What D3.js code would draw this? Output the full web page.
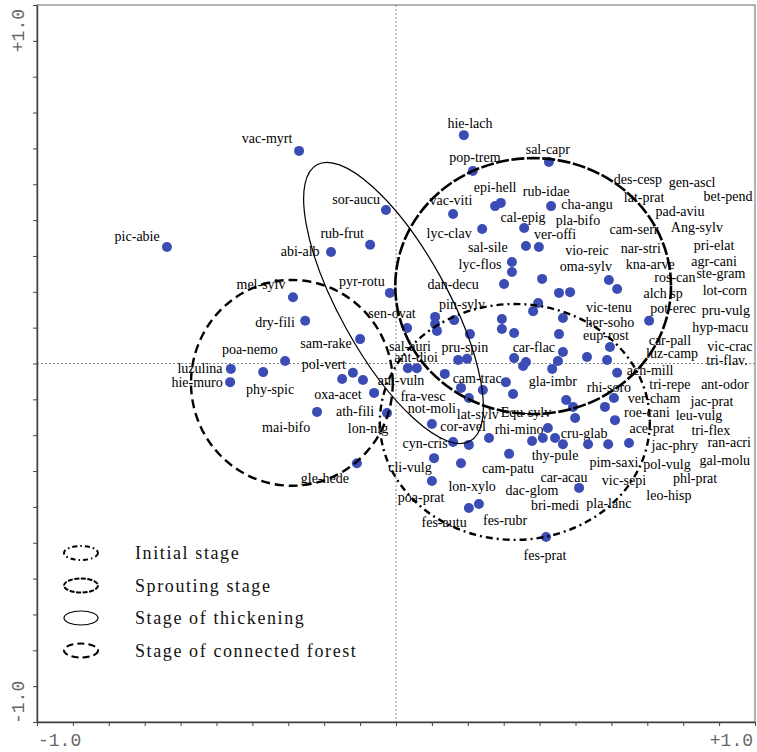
<!DOCTYPE html>
<html>
<head>
<meta charset="utf-8">
<script src="https://cdn.jsdelivr.net/npm/d3@7"></script>
<style>
  body { margin: 0; background: #fff; }
</style>
</head>
<body>
<div id="chart"></div>
<script>
// species scores on ordination axes 1 and 2
const points = [
    [-0.638, 0.325], [-0.270, 0.593], [-0.028, 0.428], [-0.072, 0.331], [-0.181, 0.311],
    [-0.017, 0.197], [-0.287, 0.185], [-0.253, 0.119], [-0.100, 0.068], [-0.309, 0.007],
    [-0.370, -0.024], [-0.460, -0.015], [-0.462, -0.052], [-0.150, -0.043], [-0.120, -0.026],
    [-0.092, -0.046], [-0.061, -0.082], [-0.025, -0.138], [-0.220, -0.135], [-0.109, -0.278],
    [0.031, 0.099], [0.033, -0.013], [0.058, -0.013], [0.189, 0.637], [0.426, 0.562],
    [0.214, 0.537], [0.276, 0.439], [0.292, 0.448], [0.432, 0.439], [0.159, 0.417],
    [0.240, 0.375], [0.357, 0.378], [0.362, 0.328], [0.398, 0.325], [0.323, 0.283],
    [0.323, 0.255], [0.407, 0.236], [0.301, 0.222], [0.454, 0.197], [0.485, 0.199],
    [0.593, 0.233], [0.616, 0.208], [0.396, 0.169], [0.382, 0.146], [0.109, 0.130],
    [0.109, 0.110], [0.114, 0.091], [0.162, 0.121], [0.295, 0.124], [0.465, 0.127],
    [0.705, 0.119], [0.295, 0.096], [0.329, 0.085], [0.206, 0.082], [0.454, 0.082],
    [0.596, 0.046], [0.465, 0.032], [0.451, 0.007], [0.435, -0.015], [0.532, 0.018],
    [0.588, 0.010], [0.329, 0.015], [0.354, -0.007], [0.362, 0.004], [0.173, 0.010],
    [0.198, 0.013], [0.136, -0.029], [0.616, -0.026], [0.306, -0.052], [0.326, -0.085],
    [0.181, -0.068], [0.242, -0.074], [0.203, -0.096], [0.474, -0.102], [0.493, -0.121],
    [0.499, -0.152], [0.607, -0.096], [0.582, -0.121], [0.610, -0.158], [0.100, -0.169],
    [0.259, -0.208], [0.159, -0.219], [0.203, -0.227], [0.423, -0.180], [0.409, -0.208],
    [0.443, -0.208], [0.379, -0.216], [0.465, -0.225], [0.535, -0.225], [0.591, -0.225],
    [0.649, -0.222], [0.315, -0.252], [0.106, -0.264], [0.181, -0.278], [0.100, -0.328],
    [0.510, -0.347], [0.203, -0.403], [0.231, -0.392], [0.418, -0.484]
];

// species abbreviations as placed on the plot
const labels = [
    ["pic-abie", -0.721, 0.356], ["vac-myrt", -0.359, 0.629], ["sor-aucu", -0.111, 0.459],
    ["rub-frut", -0.150, 0.364], ["abi-alb", -0.267, 0.314], ["pyr-rotu", -0.095, 0.230],
    ["mel-sylv", -0.376, 0.222], ["dry-fili", -0.337, 0.116], ["poa-nemo", -0.407, 0.040],
    ["sam-rake", -0.195, 0.057], ["pol-vert", -0.201, -0.001], ["luzulina", -0.546, -0.013],
    ["hie-muro", -0.554, -0.052], ["phy-spic", -0.351, -0.071], ["oxa-acet", -0.162, -0.085],
    ["ath-fili", -0.114, -0.132], ["mai-bifo", -0.306, -0.177], ["lon-nig", -0.078, -0.180],
    ["gle-hede", -0.198, -0.319], ["sen-ovat", -0.011, 0.141], ["sal-auri", 0.039, 0.049],
    ["ant-dioi", 0.056, 0.018], ["ant-vuln", 0.014, -0.046], ["fra-vesc", 0.075, -0.091],
    ["not-moli", 0.100, -0.124], ["lat-sylv", 0.228, -0.141], ["Equ-sylv", 0.362, -0.135],
    ["cor-avel", 0.187, -0.174], ["rhi-mino", 0.343, -0.183], ["cru-glab", 0.524, -0.194],
    ["cyn-cris", 0.081, -0.222], ["thy-pule", 0.443, -0.255], ["cli-vulg", 0.039, -0.289],
    ["cam-patu", 0.312, -0.291], ["car-acau", 0.468, -0.317], ["lon-xylo", 0.212, -0.342],
    ["dac-glom", 0.379, -0.353], ["poa-prat", 0.070, -0.372], ["bri-medi", 0.443, -0.395],
    ["pla-lanc", 0.593, -0.389], ["fes-autu", 0.134, -0.442], ["fes-rubr", 0.304, -0.437],
    ["fes-prat", 0.415, -0.534], ["pim-saxi", 0.607, -0.275], ["vic-sepi", 0.635, -0.325],
    ["pol-vulg", 0.755, -0.280], ["jac-phry", 0.777, -0.227], ["ran-acri", 0.928, -0.219],
    ["gal-molu", 0.916, -0.269], ["phl-prat", 0.833, -0.319], ["leo-hisp", 0.760, -0.367],
    ["ace-prat", 0.713, -0.180], ["tri-flex", 0.877, -0.185], ["roe-cani", 0.699, -0.135],
    ["leu-vulg", 0.844, -0.144], ["ver-cham", 0.719, -0.096], ["jac-prat", 0.880, -0.105],
    ["tri-repe", 0.763, -0.057], ["ant-odor", 0.916, -0.057], ["ach-mill", 0.708, -0.018],
    ["tri-flav.", 0.922, 0.010], ["luz-camp", 0.769, 0.029], ["car-pall", 0.763, 0.066],
    ["vic-crac", 0.930, 0.049], ["hyp-macu", 0.903, 0.102], ["pru-vulg", 0.919, 0.149],
    ["pot-erec", 0.772, 0.155], ["alch sp", 0.744, 0.197], ["lot-corn", 0.916, 0.205],
    ["ste-gram", 0.905, 0.252], ["ros-can", 0.777, 0.241], ["agr-cani", 0.886, 0.286],
    ["kna-arve", 0.708, 0.278], ["pri-elat", 0.886, 0.331], ["nar-stri", 0.682, 0.322],
    ["cam-serr", 0.663, 0.375], ["Ang-sylv", 0.838, 0.381], ["pad-aviu", 0.791, 0.425],
    ["lat-prat", 0.691, 0.464], ["bet-pend", 0.925, 0.467], ["des-cesp", 0.674, 0.515],
    ["gen-ascl", 0.825, 0.506], ["hie-lach", 0.206, 0.671], ["sal-capr", 0.423, 0.598],
    ["pop-trem", 0.220, 0.576], ["epi-hell", 0.276, 0.492], ["rub-idae", 0.418, 0.481],
    ["vac-viti", 0.153, 0.456], ["cha-angu", 0.532, 0.445], ["cal-epig", 0.354, 0.409],
    ["pla-bifo", 0.507, 0.400], ["lyc-clav", 0.148, 0.364], ["ver-offi", 0.443, 0.361],
    ["sal-sile", 0.256, 0.325], ["vio-reic", 0.532, 0.317], ["lyc-flos", 0.234, 0.278],
    ["oma-sylv", 0.529, 0.272], ["dan-decu", 0.159, 0.222], ["pin-sylv", 0.184, 0.166],
    ["vic-tenu", 0.593, 0.158], ["her-soho", 0.596, 0.116], ["eup-rost", 0.585, 0.079],
    ["car-flac", 0.384, 0.046], ["pru-spin", 0.192, 0.046], ["gla-imbr", 0.437, -0.049],
    ["cam-trac", 0.226, -0.040], ["rhi-soro", 0.593, -0.066]
];

// stage envelopes: centre, half-axes (axis units), rotation in degrees
const stageNames = ["Initial stage", "Sprouting stage", "Stage of thickening", "Stage of connected forest"];
const stageCx = [0.331, 0.382, -0.007, -0.290];
const stageCy = [-0.163, 0.216, 0.169, -0.054];
const stageRx = [0.376, 0.384, 0.440, 0.281];
const stageRy = [0.329, 0.357, 0.150, 0.287];
const stageAngle = [0, 0, 61, 0];

const axisTicks = d3.range(-10, 11).map(d => d / 10);

const strokeStyle = {
    "Initial stage": { w: 2.4, dash: "7,4,2,4", icon: "5,3,1.5,3" },
    "Sprouting stage": { w: 2.6, dash: "13,2.5", icon: "5,1.5" },
    "Stage of thickening": { w: 1.2, dash: null, icon: null },
    "Stage of connected forest": { w: 2.4, dash: "9,5", icon: "7,4" }
};

let width = 757, height = 752;

let svg = d3.select("#chart")
    .append("svg")
    .attr("width", width)
    .attr("height", height);

let x = d3.scaleLinear().domain([-1, 1]).range([37, 755]);
let y = d3.scaleLinear().domain([-1, 1]).range([722, 5]);

// frame
svg.append("rect")
    .attr("x", x(-1)).attr("y", y(1))
    .attr("width", x(1) - x(-1)).attr("height", y(-1) - y(1))
    .attr("fill", "none")
    .attr("stroke", "#666")
    .attr("stroke-width", 1);

// zero lines
svg.append("line")
    .attr("x1", x(0)).attr("x2", x(0))
    .attr("y1", y(1)).attr("y2", y(-1))
    .attr("stroke", "#888").attr("stroke-dasharray", "2,2");
svg.append("line")
    .attr("x1", x(-1)).attr("x2", x(1))
    .attr("y1", y(0)).attr("y2", y(0))
    .attr("stroke", "#888").attr("stroke-dasharray", "2,2");

// axes
svg.append("g")
    .attr("transform", "translate(0," + y(-1) + ")")
    .call(d3.axisBottom(x).tickValues(axisTicks).tickSize(4).tickSizeOuter(0).tickFormat(""));
svg.append("g")
    .attr("transform", "translate(" + x(-1) + ",0)")
    .call(d3.axisLeft(y).tickValues(axisTicks).tickSize(4).tickSizeOuter(0).tickFormat(""));
svg.selectAll(".domain").attr("stroke", "#444").attr("stroke-width", 1.5);
svg.selectAll(".tick line").attr("stroke", "#444");

let axisFont = "'Liberation Mono', 'Courier New', monospace";
svg.append("text")
    .attr("x", x(-1) + 1).attr("y", 746)
    .attr("font-family", axisFont).attr("font-size", 18).attr("fill", "#666")
    .text("-1.0");
svg.append("text")
    .attr("x", x(1) - 2).attr("y", 746)
    .attr("text-anchor", "end")
    .attr("font-family", axisFont).attr("font-size", 18).attr("fill", "#666")
    .text("+1.0");
svg.append("text")
    .attr("transform", "translate(24," + (y(1) + 4) + ") rotate(-90)")
    .attr("text-anchor", "end")
    .attr("font-family", axisFont).attr("font-size", 18).attr("fill", "#666")
    .text("+1.0");
svg.append("text")
    .attr("transform", "translate(24," + (y(-1) + 2) + ") rotate(-90)")
    .attr("font-family", axisFont).attr("font-size", 18).attr("fill", "#666")
    .text("-1.0");

// species labels
svg.append("g")
    .selectAll("text")
    .data(labels)
    .enter()
    .append("text")
    .attr("x", d => x(d[1]))
    .attr("y", d => y(d[2]))
    .attr("dy", "0.35em")
    .attr("text-anchor", "middle")
    .attr("font-family", "'Liberation Serif', 'Times New Roman', serif")
    .attr("font-size", 14)
    .attr("fill", "#000")
    .text(d => d[0]);

// species points
svg.append("g")
    .selectAll("circle")
    .data(points)
    .enter()
    .append("circle")
    .attr("cx", d => x(d[0]))
    .attr("cy", d => y(d[1]))
    .attr("r", 5)
    .attr("fill", "#3b4db5");

// stage envelopes
let unitX = x(1) - x(0), unitY = y(0) - y(1);
svg.append("g")
    .selectAll("ellipse")
    .data(stageNames)
    .enter()
    .append("ellipse")
    .attr("transform", (d, i) => "translate(" + x(stageCx[i]) + "," + y(stageCy[i]) + ") rotate(" + stageAngle[i] + ")")
    .attr("rx", (d, i) => stageRx[i] * unitX)
    .attr("ry", (d, i) => stageRy[i] * unitY)
    .attr("fill", "none")
    .attr("stroke", "#000")
    .attr("stroke-width", d => strokeStyle[d].w)
    .attr("stroke-dasharray", d => strokeStyle[d].dash);

// legend
let legend = svg.append("g")
    .selectAll("g")
    .data(stageNames)
    .enter()
    .append("g")
    .attr("transform", (d, i) => "translate(0," + (553 + i * 32.5) + ")");
legend.append("ellipse")
    .attr("cx", 81).attr("cy", 0)
    .attr("rx", 17).attr("ry", 7)
    .attr("fill", "none")
    .attr("stroke", "#000")
    .attr("stroke-width", d => Math.min(strokeStyle[d].w, 2))
    .attr("stroke-dasharray", d => strokeStyle[d].icon);
legend.append("text")
    .attr("x", 135).attr("y", 0)
    .attr("dy", "0.35em")
    .attr("font-family", "'Liberation Serif', 'Times New Roman', serif")
    .attr("font-size", 18)
    .attr("letter-spacing", 1.6)
    .attr("fill", "#111")
    .text(d => d);
</script>
</body>
</html>
